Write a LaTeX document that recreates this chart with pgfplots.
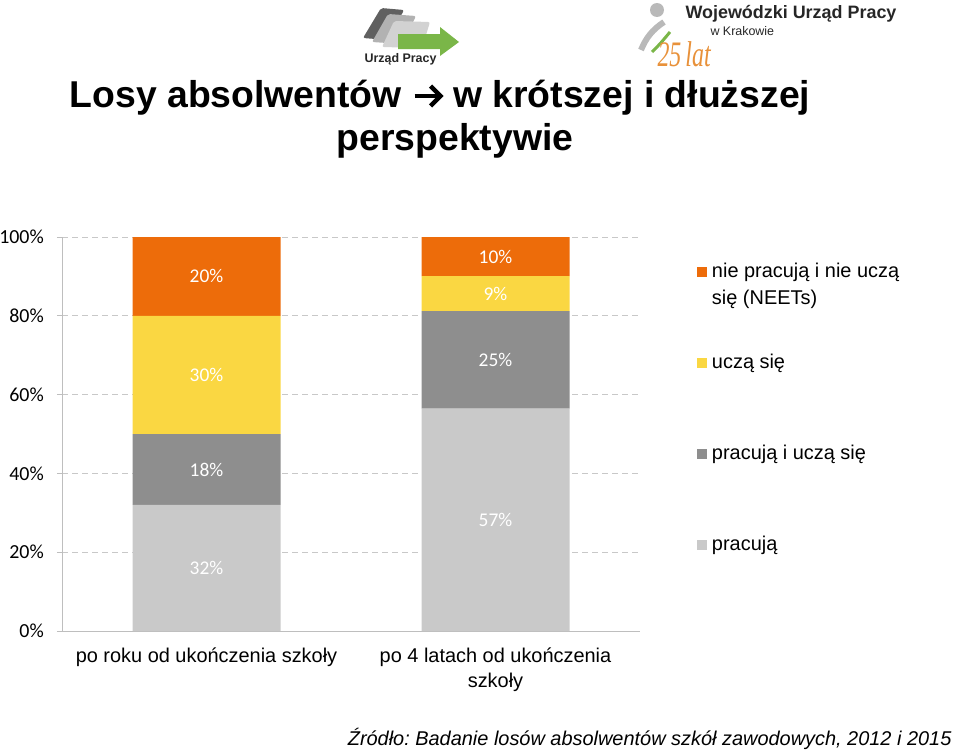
\documentclass[border=0pt]{standalone}
\usepackage{fontspec}
\setmainfont{Liberation Sans}
\newfontfamily\carlito{Carlito}
\newfontfamily\serifit{Liberation Serif}
\usepackage{pgfplots}
\usepackage{pgfplotstable}
\pgfplotsset{compat=1.18}
\frenchspacing

\definecolor{cneet}{RGB}{237,108,10}
\definecolor{cucz}{RGB}{250,215,66}
\definecolor{cpu}{RGB}{142,142,142}
\definecolor{cpr}{RGB}{201,201,201}
\definecolor{axgray}{RGB}{190,190,190}
\definecolor{gridgray}{RGB}{200,200,200}
\definecolor{logogreen}{RGB}{122,182,72}
\definecolor{logoorange}{RGB}{232,145,58}

% share of graduates, per group (%)
\pgfplotstableread{
x prac pracucz ucz neet
0 32 18 30 20
1 57 25 9 10
}\losy
\pgfplotstablecreatecol[expr={\thisrow{prac}+\thisrow{pracucz}+\thisrow{ucz}+\thisrow{neet}}]{tot}{\losy}

\pgfplotsset{
  seg/.style={
    fill=#1, draw=none,
    legend image code/.code={\fill[##1] (0bp,-5bp) rectangle (10bp,5bp);},
  },
}

\newcommand\titlearrow{\tikz[baseline=0pt]{%
  \draw[line width=4.5bp] (0bp,11bp) -- (25bp,11bp);
  \draw[line width=4.5bp, miter limit=3] (16bp,21bp) -- (26bp,11bp) -- (16bp,1bp);}}

\begin{document}
\frenchspacing
\begin{tikzpicture}
\path[use as bounding box] (0,0) rectangle (960bp,-750bp);

\begin{axis}[
  at={(62bp,-631bp)}, anchor=south west,
  scale only axis, width=578bp, height=394bp,
  ybar stacked, bar width=148bp,
  xmin=-0.5, xmax=1.5, ymin=0, ymax=100,
  xtick={0,1},
  xticklabels={po roku od ukończenia szkoły, {po 4 latach od ukończenia\\szkoły}},
  ytick={0,20,...,100},
  yticklabel={\pgfmathprintnumber{\tick}\%},
  /pgf/number format/assume math mode=true,
  axis x line*=bottom, axis y line*=left,
  axis line style={draw=axgray, line width=1bp, -},
  ymajorgrids,
  major grid style={draw=gridgray, line width=1bp, dash pattern=on 6bp off 4bp},
  tick align=outside, major tick length=5bp,
  xtick style={draw=none},
  ytick style={draw=axgray, line width=1bp},
  yticklabel style={font=\fontsize{20}{24}\selectfont\carlito, inner sep=0pt, xshift=-13bp},
  xticklabel style={font=\fontsize{20}{25}\selectfont, align=center, inner sep=0pt, yshift=-12bp},
  nodes near coords={\pgfmathprintnumber{\pgfplotspointmeta}\%},
  every node near coord/.append style={anchor=center,
    font=\fontsize{19.5}{23}\selectfont\carlito, text=white},
  legend style={at={(axis description cs:1.0986,0.934)}, anchor=north west,
    draw=none, fill=none, inner sep=0pt, outer sep=0pt,
    row sep=73bp, column sep=5bp,
    font=\fontsize{20}{24}\selectfont,
    nodes={inner sep=0pt, text height=14bp, text depth=4bp}},
  legend cell align=left, reverse legend,
]
\addplot[seg=cpr, point meta=\thisrow{prac}]
  table[x=x, y expr=\thisrow{prac}*100/\thisrow{tot}] {\losy};
\addlegendentry{pracują}
\addplot[seg=cpu, point meta=\thisrow{pracucz}]
  table[x=x, y expr=\thisrow{pracucz}*100/\thisrow{tot}] {\losy};
\addlegendentry{pracują i uczą się}
\addplot[seg=cucz, point meta=\thisrow{ucz}]
  table[x=x, y expr=\thisrow{ucz}*100/\thisrow{tot}] {\losy};
\addlegendentry{uczą się}
\addplot[seg=cneet, point meta=\thisrow{neet}]
  table[x=x, y expr=\thisrow{neet}*100/\thisrow{tot}] {\losy};
\addlegendentry{\vtop{\baselineskip=27bp\hbox{nie pracują i nie uczą}\hbox{się (NEETs)}}}
\end{axis}

\begin{scope}[x=1bp, y=-1bp]
% title
\node[anchor=base, font=\bfseries\fontsize{37.5}{45}\selectfont] at (440,107)
  {Losy absolwentów \titlearrow{} w krótszej i dłuższej};
\node[anchor=base, font=\bfseries\fontsize{37.5}{45}\selectfont] at (455,150)
  {perspektywie};
% source
\node[anchor=base east, font=\itshape\fontsize{20}{24}\selectfont] at (955,745)
  {Źródło: Badanie losów absolwentów szkół zawodowych, 2012 i 2015};
% logo: Urzad Pracy
\fill[gray!75!black, rounded corners=2bp] (363,38) -- (381,8) -- (404,10) -- (388,40) -- cycle;
\fill[gray!60, rounded corners=2bp] (372,42) -- (388,14) -- (416,16) -- (402,44) -- cycle;
\fill[gray!35, rounded corners=2bp] (382,47) -- (394,21) -- (430,22) -- (422,48) -- cycle;
\fill[logogreen] (398,34) -- (440,34) -- (440,27) -- (459,42) -- (440,56) -- (440,49) -- (398,49) -- cycle;
\node[anchor=base west, font=\bfseries\fontsize{12.5}{14}\selectfont, text=black!85] at (361,62) {Urząd Pracy};
% logo: WUP Krakow
\fill[gray!55] (657,10) circle (7);
\draw[gray!55, line width=6bp] (664,22) .. controls (652,30) and (646,38) .. (641,50);
\draw[logogreen, line width=3bp] (652,52) .. controls (660,44) .. (670,32);
\node[anchor=base west, yscale=1.5, text=logoorange, font=\serifit\itshape\fontsize{24}{24}\selectfont] at (654,66) {25\,lat};
\node[anchor=base west, font=\bfseries\fontsize{18}{20}\selectfont, text=black!85] at (682,18) {Wojewódzki Urząd Pracy};
\node[anchor=base west, font=\fontsize{12.5}{14}\selectfont, text=black!85] at (707,35) {w Krakowie};
\end{scope}
\end{tikzpicture}
\end{document}
